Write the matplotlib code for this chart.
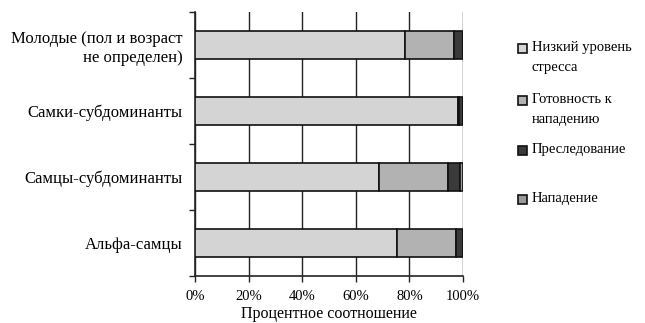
import matplotlib
matplotlib.use("Agg")
import matplotlib.pyplot as plt
from matplotlib.patches import Rectangle
import numpy as np

plt.rcParams['font.family'] = ['Liberation Serif', 'DejaVu Serif']

categories = ["Альфа-самцы", "Самцы-субдоминанты", "Самки-субдоминанты",
              "Молодые (пол и возраст\nне определен)"]
series_names = ["Низкий уровень\nстресса", "Готовность к\nнападению",
                "Преследование", "Нападение"]
low_stress = [75.5, 68.5, 98.0, 78.5]
readiness = [22.0, 26.0, 0.5, 18.0]
pursuit = [2.5, 4.5, 1.5, 3.5]
attack = [0.0, 1.0, 0.0, 0.0]
series = [low_stress, readiness, pursuit, attack]
colors = ["#d4d4d4", "#b2b2b2", "#3a3a3a", "#9a9a9a"]
xticks = [0, 20, 40, 60, 80, 100]

fig = plt.figure(figsize=(6.45, 3.23), dpi=100)
ax = fig.add_axes([195/645, 1 - 276/323, 268/645, 264/323])

y = np.arange(len(categories))
left = np.zeros(len(categories))
for vals, col in zip(series, colors):
    vals = np.array(vals)
    ax.barh(y, vals, left=left, height=0.43, color=col, edgecolor="#111111",
            linewidth=1.2, zorder=3)
    left += vals

ax.set_xlim(0, 100)
ax.set_ylim(-0.5, len(categories) - 0.5)
ax.set_xticks(xticks)
ax.set_xticklabels([f"{t}%" for t in xticks], fontsize=10.5)
ax.set_yticks(y)
ax.set_yticklabels(categories, fontsize=12, linespacing=1.25)
ax.set_yticks(np.arange(-0.5, len(categories), 1.0), minor=True)
ax.tick_params(axis="y", which="major", length=0, pad=9)
ax.tick_params(axis="y", which="minor", length=4, width=1, color="#222222")
ax.tick_params(axis="x", length=4, width=1, color="#222222", pad=6)
ax.grid(axis="x", color="#222222", linewidth=1.0, zorder=0)
for s in ["top", "right"]:
    ax.spines[s].set_visible(False)
for s in ["left", "bottom"]:
    ax.spines[s].set_color("#222222")
    ax.spines[s].set_linewidth(1.2)
ax.set_xlabel("Процентное соотношение", fontsize=11.5, labelpad=2)

# legend drawn by hand so each swatch sits on the first line of its label
legend_y = [48, 100, 150, 199]
for name, col, ypx in zip(series_names, colors, legend_y):
    fy = 1 - ypx / 323
    fig.patches.append(Rectangle((518/645, fy - 4.5/323), 9/645, 9/323,
                                 transform=fig.transFigure, facecolor=col,
                                 edgecolor="#111111", linewidth=1.2))
    fig.text(532/645, fy + 7/323, name, fontsize=10.5, va="top", ha="left",
             linespacing=1.75)

fig.savefig("out.png", dpi=100)
